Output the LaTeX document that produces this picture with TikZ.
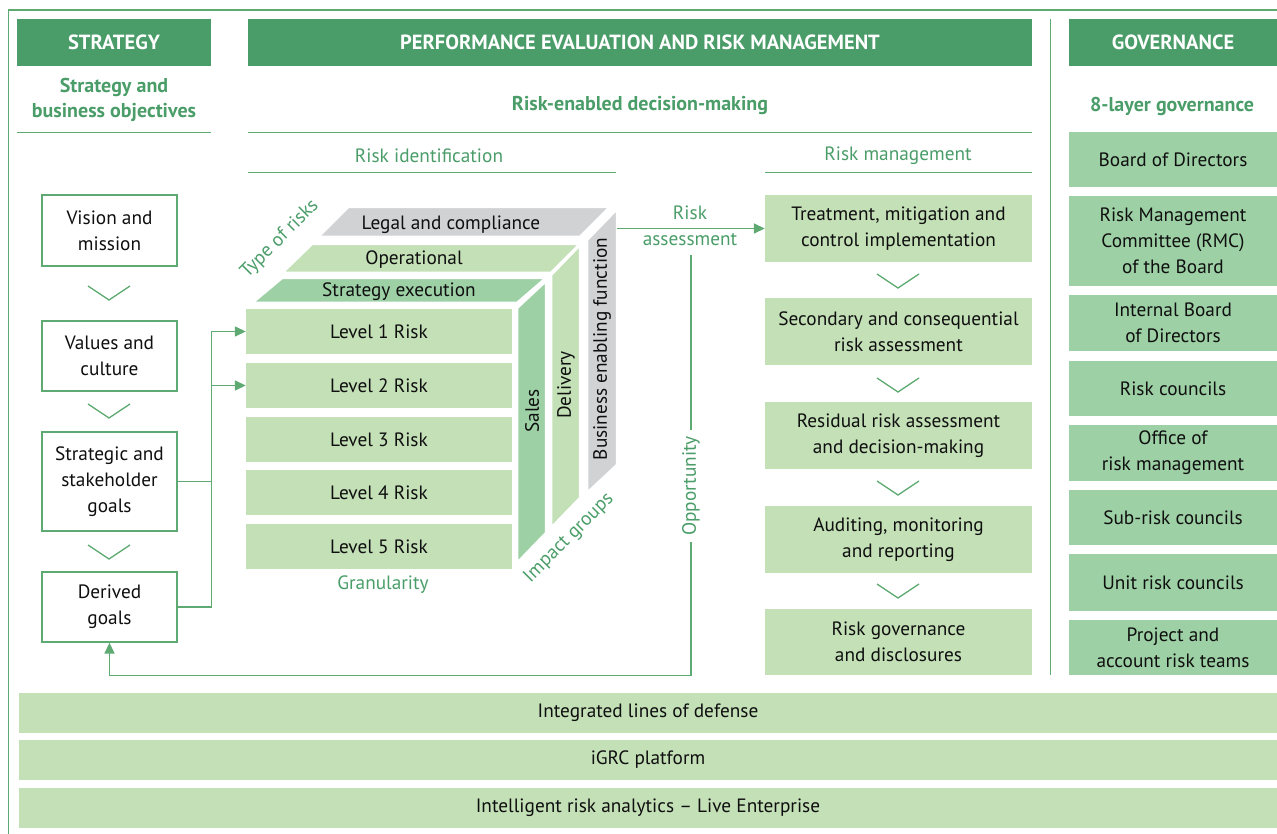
\documentclass[tikz,border=0pt]{standalone}
\usepackage{fontspec}
\setmainfont{PT Sans}
\usetikzlibrary{arrows.meta}
\definecolor{hdr}{RGB}{74,157,104}
\definecolor{tgreen}{RGB}{74,157,104}
\definecolor{lg}{RGB}{196,224,183}
\definecolor{mg}{RGB}{157,208,165}
\definecolor{gr}{RGB}{209,210,212}
\definecolor{ln}{RGB}{95,170,115}
\definecolor{txt}{RGB}{15,15,15}
\begin{document}
\begin{tikzpicture}[x=1pt,y=-1pt,
  every node/.style={font=\fontsize{19.3}{26}\selectfont, text=txt, align=center, inner sep=0pt},
  hdrbox/.style={fill=hdr, text=white, font=\fontsize{20.5}{24}\selectfont\bfseries, minimum height=47pt},
  subt/.style={text=tgreen, font=\fontsize{20}{25}\selectfont\bfseries},
  sect/.style={text=tgreen},
  wbox/.style={draw=ln, line width=1.3pt, fill=white, minimum width=135pt},
  lvl/.style={fill=lg, minimum width=266pt, minimum height=45pt},
  rmbox/.style={fill=lg, minimum width=267pt, minimum height=67pt},
  gvbox/.style={fill=mg, minimum width=208pt},
  barbox/.style={fill=lg, minimum width=1258pt, minimum height=40pt},
  chev/.style={draw=ln, line width=1.3pt},
  conn/.style={draw=ln, line width=1.5pt},
  arr/.style={conn, -{Triangle[length=11pt,width=10pt]}},
  face/.style={draw=white, line width=2.5pt, line join=miter}
]
\useasboundingbox (0,0) rectangle (1277,834);

% frame
\draw[ln, line width=1.5pt] (8.5,834) -- (8.5,10) -- (1277,10);

% headers
\node[hdrbox, minimum width=194pt] (hs) at (114,42.5) {STRATEGY};
\node[hdrbox, minimum width=784pt] (hp) at (640,42.5) {PERFORMANCE EVALUATION AND RISK MANAGEMENT};
\node[hdrbox, minimum width=208pt] (hg) at (1173,42.5) {GOVERNANCE};
\draw[ln, line width=1.3pt] (1050.5,19) -- (1050.5,675);

% subtitles
\node[subt] (s1) at (114,100) {Strategy and\\business objectives};
\node[subt] (s2) at (640,106) {Risk-enabled decision-making};
\node[subt] (s3) at (1172,106) {8-layer governance};
\draw[ln, line width=1.3pt] (17,132.5) -- (211,132.5);
\draw[ln, line width=1.3pt] (248,132.5) -- (1032,132.5);
\node[sect] (ri) at (429,156) {Risk identification};
\node[sect] (rmt) at (898,156) {Risk management};
\draw[ln, line width=1.3pt] (248,172.5) -- (616,172.5);
\draw[ln, line width=1.3pt] (765,172.5) -- (1032,172.5);

% strategy column
\node[wbox, minimum height=71pt] (vm) at (109.5,230.5) {Vision and\\mission};
\node[wbox, minimum height=70pt] (vc) at (109.5,356) {Values and\\culture};
\node[wbox, minimum height=99pt] (sg) at (109.5,481.5) {Strategic and\\stakeholder\\goals};
\node[wbox, minimum height=70pt] (dg) at (109.5,607) {Derived\\goals};
\draw[chev] (88,286) -- (109,300) -- (130,286);
\draw[chev] (88,404) -- (109,418) -- (130,404);
\draw[chev] (88,545) -- (109,559) -- (130,545);

% cube: back layer (legal / business enabling)
\fill[gr, face] (318,237) -- (580,237) -- (610,207) -- (348,207) -- cycle;
\fill[gr, face] (587,240) -- (617,209) -- (617,465) -- (587,493) -- cycle;
\node (legal) at (451,224.5) {Legal and compliance};
\node[rotate=90] (bef) at (602,349) {Business enabling function};
% middle layer (operational / delivery)
\fill[lg, face] (282,273) -- (551,273) -- (580,244) -- (312,244) -- cycle;
\fill[lg, face] (551,275) -- (580,245) -- (580,498) -- (551,528) -- cycle;
\node (oper) at (414,260) {Operational};
\node[rotate=90] (deliv) at (566,385) {Delivery};
% front layer (strategy execution / sales)
\fill[mg, face] (252,303) -- (517,303) -- (546,278) -- (282,278) -- cycle;
\fill[mg, face] (517,308) -- (546,281) -- (546,533) -- (517,563) -- cycle;
\node (strex) at (399,291.5) {Strategy execution};
\node[rotate=90] (sales) at (532,411) {Sales};

% levels
\node[lvl] (l1) at (379,331.5) {Level 1 Risk};
\node[lvl] (l2) at (379,385.5) {Level 2 Risk};
\node[lvl] (l3) at (379,439.5) {Level 3 Risk};
\node[lvl] (l4) at (379,492.5) {Level 4 Risk};
\node[lvl] (l5) at (379,546.5) {Level 5 Risk};

\node[sect, rotate=45] (tor) at (280,239) {Type of risks};
\node[sect] (gran) at (383,585) {Granularity};
\node[sect, rotate=45] (impg) at (569,538) {Impact groups};

% connectors strategy -> levels
\draw[arr] (dg.east) -- ++(34,0) |- (l1.west);
\draw[arr] (sg.east) -- ++(34,0) |- (l2.west);

% risk management column
\node[rmbox] (rm1) at (898.5,228.5) {Treatment, mitigation and\\control implementation};
\node[rmbox] (rm2) at (898.5,331.5) {Secondary and consequential\\risk assessment};
\node[rmbox] (rm3) at (898.5,435.5) {Residual risk assessment\\and decision-making};
\node[rmbox] (rm4) at (898.5,539.5) {Auditing, monitoring\\and reporting};
\node[rmbox, minimum height=66pt] (rm5) at (898.5,642) {Risk governance\\and disclosures};
\draw[chev] (877,274) -- (898,288) -- (919,274);
\draw[chev] (877,378) -- (898,392) -- (919,378);
\draw[chev] (877,481) -- (898,495) -- (919,481);
\draw[chev] (877,584) -- (898,598) -- (919,584);

% risk assessment arrow
\coordinate (befR) at (617,228.5);
\draw[arr] (befR) -- (rm1.west);
\node[sect] (ra1) at (690,213) {Risk};
\node[sect] (ra2) at (690,240) {assessment};

% opportunity loop
\coordinate (oppTop) at (691,255);
\coordinate (oppBot) at (691,675.5);
\draw[arr] (oppTop) -- (oppBot) -| (dg.south);
\node[sect, fill=white, rotate=90, inner xsep=6pt, inner ysep=2pt] (opl) at (691,486) {Opportunity};

% governance column
\node[gvbox, minimum height=55pt] (g1) at (1173,159.5) {Board of Directors};
\node[gvbox, minimum height=90pt] (g2) at (1173,241) {Risk Management\\Committee (RMC)\\of the Board};
\node[gvbox, minimum height=56pt] (g3) at (1173,323) {Internal Board\\of Directors};
\node[gvbox, minimum height=55pt] (g4) at (1173,388.5) {Risk councils};
\node[gvbox, minimum height=56pt] (g5) at (1173,453) {Office of\\risk management};
\node[gvbox, minimum height=55pt] (g6) at (1173,517.5) {Sub-risk councils};
\node[gvbox, minimum height=57pt] (g7) at (1173,582.5) {Unit risk councils};
\node[gvbox, minimum height=55pt] (g8) at (1173,647.5) {Project and\\account risk teams};

% bottom bars
\node[barbox] (b1) at (648,713) {Integrated lines of defense};
\node[barbox] (b2) at (648,760) {iGRC platform};
\node[barbox] (b3) at (648,808) {Intelligent risk analytics – Live Enterprise};
\end{tikzpicture}
\end{document}
